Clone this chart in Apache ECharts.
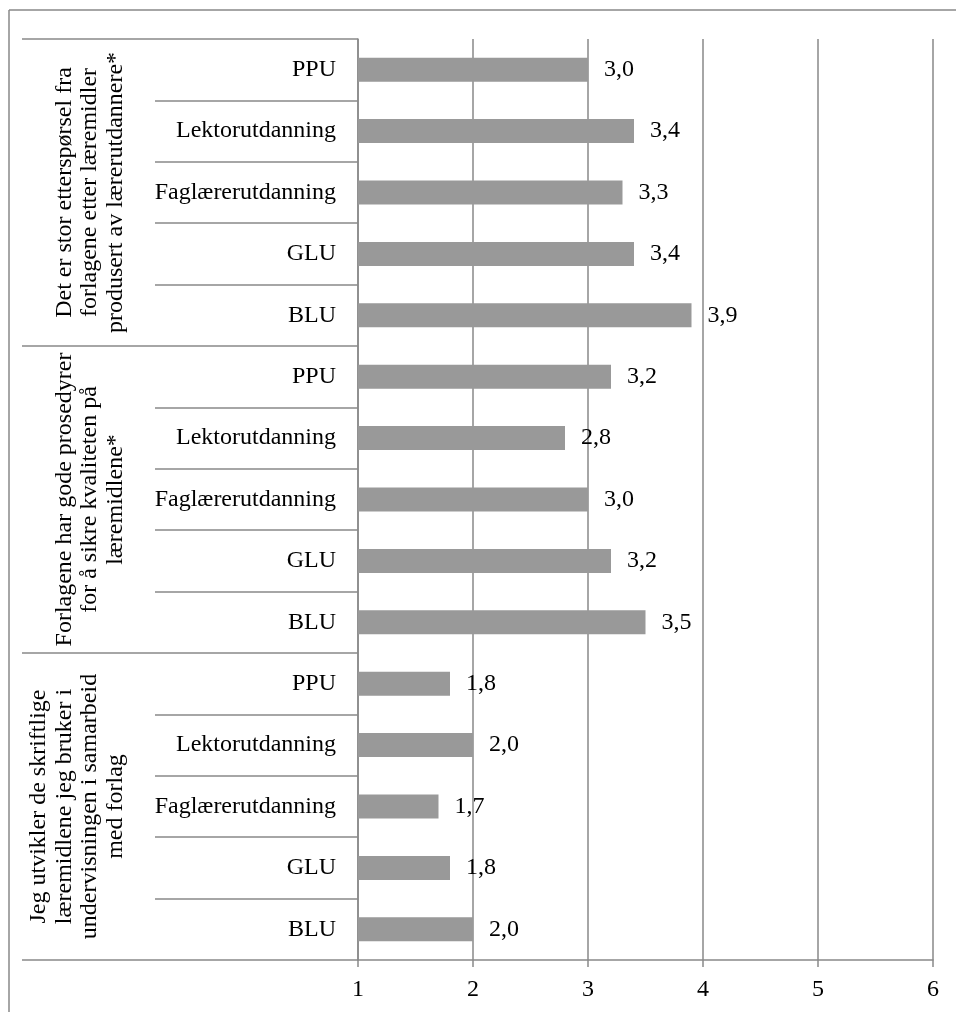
<!DOCTYPE html>
<html>
<head>
<meta charset="utf-8">
<script src="https://cdn.jsdelivr.net/npm/echarts@6/dist/echarts.min.js"></script>
<style>
  html, body { margin: 0; padding: 0; background: #fff; }
  #chart { width: 956px; height: 1012px; }
</style>
</head>
<body>
<div id="chart"></div>
<script>
// Statements (groups), top to bottom
const groups = [
  'Det er stor etterspørsel fra\nforlagene etter læremidler\nprodusert av lærerutdannere*',
  'Forlagene har gode prosedyrer\nfor å sikre kvaliteten på\nlæremidlene*',
  'Jeg utvikler de skriftlige\nlæremidlene jeg bruker i\nundervisningen i samarbeid\nmed forlag'
];
// Teacher education programmes within each statement
const programmes = ['PPU', 'Lektorutdanning', 'Faglærerutdanning', 'GLU', 'BLU'];
// Mean scores per statement, in programme order
const scoresDemand = [3.0, 3.4, 3.3, 3.4, 3.9];
const scoresQuality = [3.2, 2.8, 3.0, 3.2, 3.5];
const scoresCooperation = [1.8, 2.0, 1.7, 1.8, 2.0];
// Value axis ticks
const axisMin = 1, axisMax = 6, axisStep = 1;

const categories = [];
const values = [];
[scoresDemand, scoresQuality, scoresCooperation].forEach(function (arr) {
  programmes.forEach(function (p, i) {
    categories.push(p);
    values.push(arr[i]);
  });
});

const FONT = '"Liberation Serif", "Times New Roman", "DejaVu Serif", serif';
const LINE = '#898989';
const FS = 24;

const chart = echarts.init(document.getElementById('chart'), null, { renderer: 'canvas' });
chart.setOption({
  animation: false,
  backgroundColor: '#ffffff',
  textStyle: { fontFamily: FONT },
  grid: { left: 358, right: 23, top: 39, bottom: 52, containLabel: false, outerBoundsMode: 'none' },
  graphic: [
    { type: 'line', shape: { x1: 9, y1: 10, x2: 956, y2: 10 }, style: { stroke: LINE, lineWidth: 1.5 }, silent: true },
    { type: 'line', shape: { x1: 9, y1: 10, x2: 9, y2: 1012 }, style: { stroke: LINE, lineWidth: 1.5 }, silent: true }
  ],
  xAxis: {
    type: 'value',
    min: axisMin, max: axisMax, interval: axisStep,
    axisLine: { show: true, lineStyle: { color: LINE, width: 1.5 } },
    axisTick: { show: true, length: 7, lineStyle: { color: LINE, width: 1.5 } },
    splitLine: { show: true, lineStyle: { color: LINE, width: 1.5 } },
    axisLabel: { color: '#000', fontSize: FS, fontFamily: FONT, margin: 18 }
  },
  yAxis: [
    {
      type: 'category',
      data: categories,
      inverse: true,
      position: 'left',
      axisLine: { show: true, lineStyle: { color: LINE, width: 1.5 } },
      axisTick: { show: true, interval: 0, length: 203, lineStyle: { color: LINE, width: 1.5 } },
      axisLabel: { interval: 0, color: '#000', fontSize: FS, fontFamily: FONT, margin: 22 },
      splitLine: { show: false }
    },
    {
      type: 'category',
      data: groups,
      inverse: true,
      position: 'left',
      axisLine: { show: false },
      axisTick: { show: true, interval: 0, length: 336, lineStyle: { color: LINE, width: 1.5 } },
      axisLabel: { interval: 0, rotate: 90, color: '#000', fontSize: FS, lineHeight: 25.5, fontFamily: FONT, margin: 230 },
      splitLine: { show: false }
    }
  ],
  series: [{
    type: 'bar',
    yAxisIndex: 0,
    data: values,
    barWidth: 24,
    itemStyle: { color: '#999999' },
    label: {
      show: true,
      position: 'right',
      distance: 16,
      color: '#000',
      fontSize: FS,
      fontFamily: FONT,
      formatter: function (p) { return p.value.toFixed(1).replace('.', ','); }
    }
  }]
});
</script>
</body>
</html>
